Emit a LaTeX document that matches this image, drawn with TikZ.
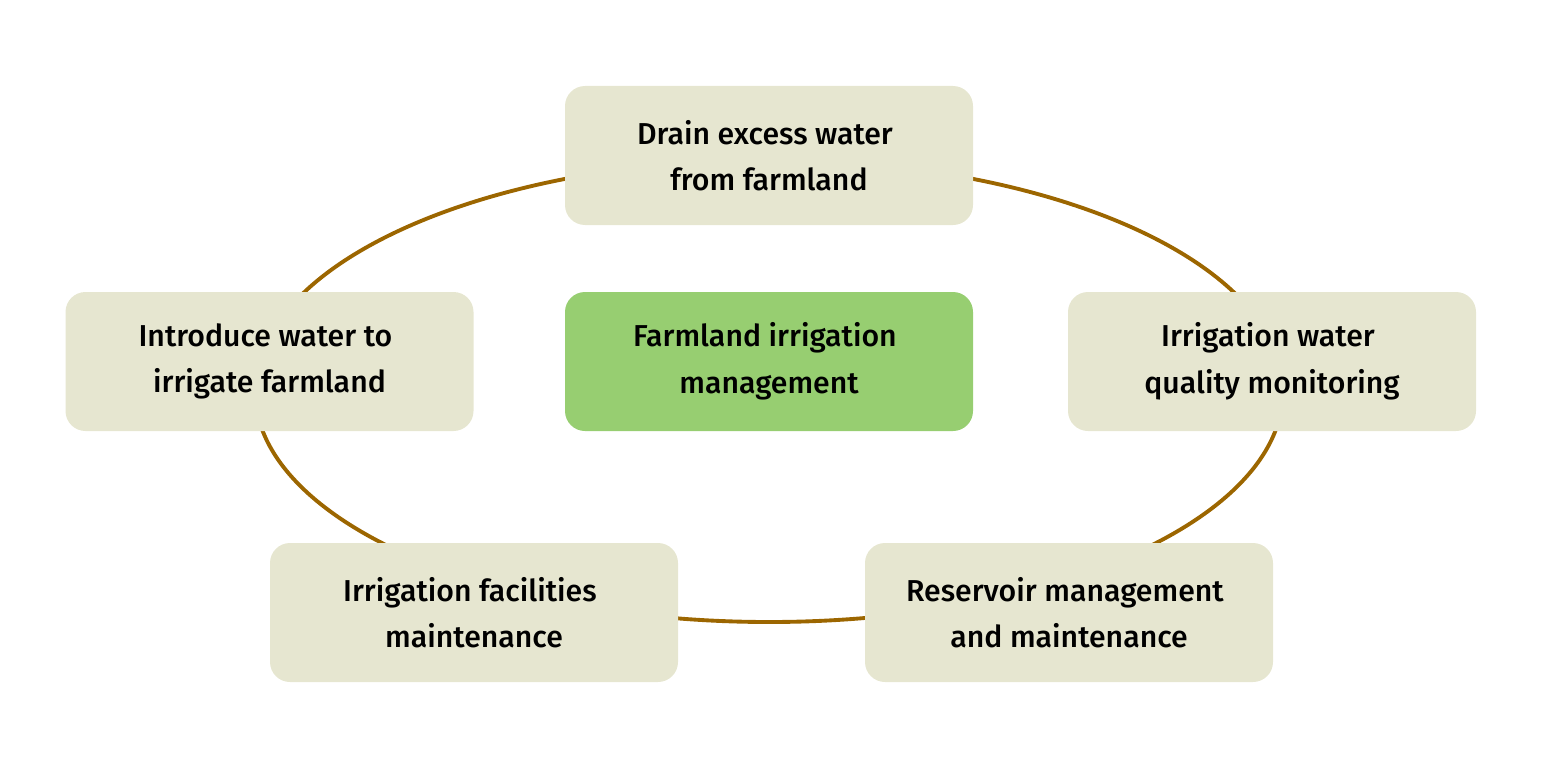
\documentclass[tikz,border=0pt]{standalone}
\usepackage{fontspec}
\setmainfont{Fira Sans}[UprightFont={* Medium}]
\usepackage{tikz}
\usetikzlibrary{positioning}
\definecolor{ringbrown}{RGB}{156,102,0}
\definecolor{boxbeige}{RGB}{230,230,208}
\definecolor{boxgreen}{RGB}{151,206,113}

\begin{document}
\begin{tikzpicture}[
    taskbox/.style={fill=boxbeige, rounded corners=0.4cm, minimum width=8.16cm,
      minimum height=2.78cm, align=center, font=\fontsize{17.2}{26.5}\selectfont},
    hubbox/.style={taskbox, fill=boxgreen}
  ]
    \useasboundingbox (0,0) rectangle (30.84,-15.36);

    % --- Ring behind the boxes ---
    \draw[ringbrown, line width=2.2pt] (15.38,-7.82) ellipse [x radius=10.28cm, y radius=4.62cm];

    % --- Centre ---
    \node[hubbox] (hub) at (15.38,-7.23) {Farmland irrigation\hspace*{.27em}\\management};

    % --- Tasks round the ring ---
    \node[taskbox] (drain) at (15.38,-3.11) {Drain excess water\hspace*{.27em}\\from farmland};
    \node[taskbox] (introduce) at (5.39,-7.23) {Introduce water to\hspace*{.27em}\\irrigate farmland};
    \node[taskbox] (quality) at (25.44,-7.23) {Irrigation water\hspace*{.27em}\\quality monitoring};
    \node[taskbox] (facilities) at (9.48,-12.25) {Irrigation facilities\hspace*{.27em}\\maintenance};
    \node[taskbox] (reservoir) at (21.38,-12.25) {Reservoir management\hspace*{.27em}\\and maintenance};
  \end{tikzpicture}
\end{document}
